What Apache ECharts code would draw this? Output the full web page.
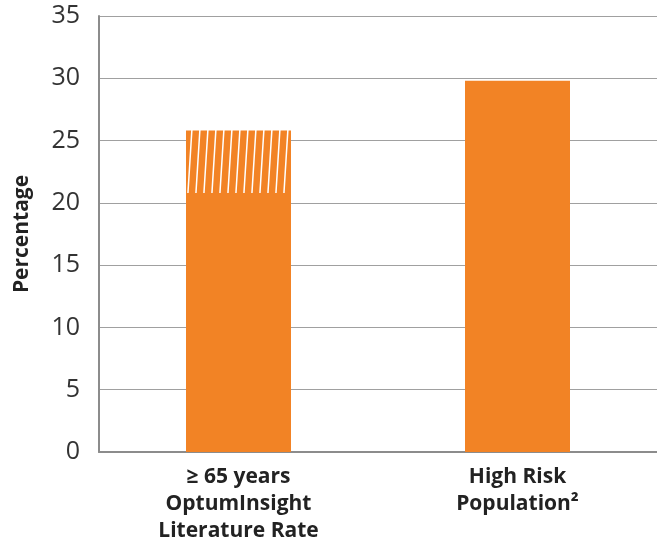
<!DOCTYPE html>
<html>
<head>
<meta charset="utf-8">
<script src="https://cdn.jsdelivr.net/npm/echarts@6/dist/echarts.min.js"></script>
<style>
  html, body { margin: 0; padding: 0; background: #fff; }
  #chart { width: 657px; height: 545px; }
</style>
</head>
<body>
<div id="chart"></div>
<script>
// Categories and values (percent)
const categories = ['≥ 65 years\nOptumInsight\nLiterature Rate', 'High Risk\nPopulation²'];
const solidValues = [20.8, 29.8];     // solid orange portion
const rangeValues = [5.0, 0];         // hatched extension on top
const yTicks = [0, 5, 10, 15, 20, 25, 30, 35];

const ORANGE = '#F28325';

// Hatch tile: steep white diagonal strokes on orange, tiling seamlessly
function makeHatch() {
  const c = document.createElement('canvas');
  c.width = 8; c.height = 128;
  const g = c.getContext('2d');
  g.fillStyle = ORANGE;
  g.fillRect(0, 0, c.width, c.height);
  g.strokeStyle = '#ffffff';
  g.lineWidth = 1.5;
  for (let k = -1; k <= 1; k++) {
    g.beginPath();
    g.moveTo(k * 8, 128);
    g.lineTo(k * 8 + 8, 0);
    g.stroke();
  }
  return c;
}

const chart = echarts.init(document.getElementById('chart'), null, { renderer: 'canvas' });
chart.setOption({
  animation: false,
  grid: { left: 99, right: 0, top: 16, bottom: 92, containLabel: false },
  xAxis: {
    type: 'category',
    data: categories,
    axisLine: { lineStyle: { color: '#8c8c8c', width: 2 } },
    axisTick: { show: false },
    axisLabel: {
      color: '#222',
      fontFamily: 'Open Sans, Noto Sans, sans-serif',
      fontWeight: 'bold',
      fontSize: 21,
      lineHeight: 27,
      margin: 12,
      interval: 0
    }
  },
  yAxis: {
    type: 'value',
    min: yTicks[0],
    max: yTicks[yTicks.length - 1],
    interval: 5,
    name: 'Percentage',
    nameLocation: 'middle',
    nameGap: 66,
    nameRotate: 90,
    nameTextStyle: {
      color: '#222',
      fontFamily: 'Open Sans, Noto Sans, sans-serif',
      fontWeight: 'bold',
      fontSize: 21
    },
    axisLine: { show: true, lineStyle: { color: '#8c8c8c', width: 2 } },
    axisTick: { show: false },
    splitLine: { lineStyle: { color: '#a0a0a0', width: 1 } },
    axisLabel: {
      color: '#333',
      fontFamily: 'Open Sans, Noto Sans, sans-serif',
      fontSize: 25,
      margin: 19
    }
  },
  series: [
    {
      type: 'bar',
      stack: 'rate',
      data: solidValues,
      barWidth: 105,
      itemStyle: { color: ORANGE }
    },
    {
      type: 'bar',
      stack: 'rate',
      data: rangeValues,
      barWidth: 105,
      itemStyle: { color: { image: makeHatch(), repeat: 'repeat' } }
    }
  ]
});
</script>
</body>
</html>
